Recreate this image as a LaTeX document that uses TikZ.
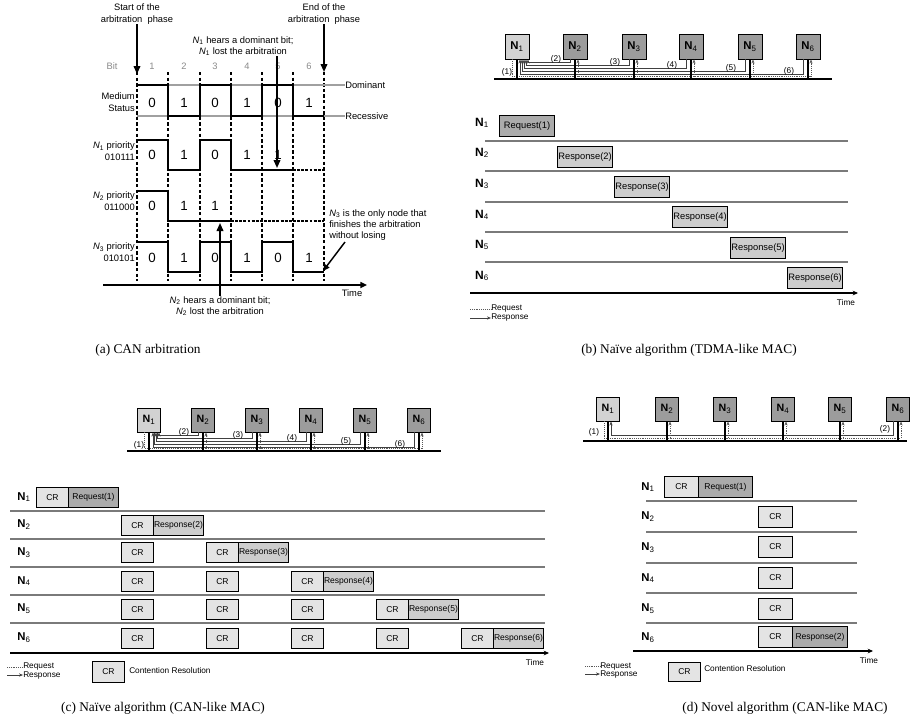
\documentclass[tikz,border=0pt]{standalone}
\usepackage{fontspec}
\setmainfont{Liberation Serif}
\setsansfont{Liberation Sans}
\usetikzlibrary{arrows.meta,calc}
\definecolor{nodeA}{HTML}{D2D2D2}
\definecolor{nodeB}{HTML}{9C9C9C}
\definecolor{reqfill}{HTML}{ABABAB}
\definecolor{resfill}{HTML}{CDCDCD}
\definecolor{crfill}{HTML}{E4E4E4}
\definecolor{sepcol}{HTML}{7A7A7A}
\definecolor{bitgray}{HTML}{8A8A8A}
\definecolor{lvlgray}{HTML}{A0A0A0}
\newcommand{\NB}[1]{\textbf{N}\textsubscript{#1}}
\newcommand{\NI}[1]{\textit{N}\textsubscript{#1}}
\begin{document}
\begin{tikzpicture}[x=0.75pt,y=-0.75pt,font=\sffamily,
  every node/.style={inner sep=0pt},
  lbl/.style={font=\sffamily\fontsize{7}{8.5}\selectfont},
  digit/.style={font=\sffamily\fontsize{10}{10}\selectfont},
  wave/.style={line width=1.5pt,line join=miter},
  wavedash/.style={line width=1.5pt,dash pattern=on 2.2pt off 0.9pt},
  bitline/.style={line width=1.1pt,dash pattern=on 2.6pt off 1.6pt},
  lvl/.style={draw=lvlgray,line width=0.8pt},
  bigarrow/.style={line width=1.2pt,-{Triangle[length=6pt,width=5pt]}},
  axisarrow/.style={line width=1.2pt,-{Triangle[length=5pt,width=4.5pt]}},
  nbox/.style={draw,line width=0.7pt,minimum width=18pt,minimum height=18.75pt,font=\sffamily\fontsize{8.5}{9}\selectfont},
  nboxs/.style={nbox,minimum width=17.25pt,minimum height=18pt,font=\sffamily\fontsize{8}{9}\selectfont},
  bus/.style={line width=1.8pt},
  vbar/.style={line width=1.6pt},
  reqline/.style={draw=black!65,line width=0.6pt,dash pattern=on 0.7pt off 0.7pt},
  reqarrow/.style={reqline,-{Stealth[length=3pt,width=2.4pt]}},
  respline/.style={draw=black!75,line width=0.6pt,-{Stealth[length=3pt,width=2.4pt]}},
  plbl/.style={font=\sffamily\fontsize{6.2}{7}\selectfont},
  rowlbl/.style={font=\sffamily\fontsize{9}{10}\selectfont},
  rowlbls/.style={font=\sffamily\fontsize{8.5}{10}\selectfont},
  rowsep/.style={draw=sepcol,line width=0.9pt},
  tline/.style={line width=0.9pt,-{Stealth[length=4pt,width=3.5pt]}},
  bbox/.style={draw,line width=0.8pt,anchor=north west,minimum width=41.25pt,minimum height=15.75pt,font=\sffamily\fontsize{7}{8}\selectfont},
  crbox/.style={draw,line width=0.7pt,fill=crfill,anchor=north west,minimum width=24pt,minimum height=15pt,font=\sffamily\fontsize{6.4}{7}\selectfont},
  resbox/.style={crbox,fill=resfill,minimum width=37.5pt},
  crboxd/.style={crbox,minimum width=25.5pt,minimum height=15.75pt},
  leg/.style={font=\sffamily\fontsize{6.2}{6.5}\selectfont},
  captxt/.style={font=\rmfamily\fontsize{10}{12}\selectfont}
]
\useasboundingbox (0,0) rectangle (913,722);

%% ================= (a) CAN arbitration =================
\foreach \x in {137,168,200,231,262,293,324} \draw[bitline] (\x,72) -- (\x,281);

\node[lbl,align=center] (startlbl) at (137,14) {Start of the\\arbitration\ \ phase};
\node[lbl,align=center] (endlbl) at (324,14) {End of the\\arbitration\ \ phase};
\coordinate (sa) at (137,74);
\coordinate (ea) at (324,72);
\draw[bigarrow] (startlbl.south) -- (sa);
\draw[bigarrow] (endlbl.south) -- (ea);

\node[lbl,text=bitgray] (bitlbl) at (112,66) {Bit};
\foreach \i/\x in {1/152,2/184,3/215,4/247,5/278,6/309} \node[lbl,text=bitgray] (bit\i) at (\x,66) {\i};

\node[lbl,anchor=west] (dom) at (345,85) {Dominant};
\node[lbl,anchor=west] (rec) at (345,116) {Recessive};
\draw[lvl] (137,85) -- (dom.west);
\draw[lvl] (137,116) -- (rec.west);

% medium status
\node[lbl,align=right,anchor=east] (medlbl) at (135,102) {Medium\\Status};
\draw[wave] (137,85) -| (168,116) -| (200,85) -| (231,116) -| (262,85) -| (293,116) -- (324,116);
\foreach \x/\d in {152/0,184/1,215/0,247/1,278/0,309/1} \node[digit] (md\x) at (\x,103) {\d};

% N1
\node[lbl,align=right,anchor=east] (n1lbl) at (135,151) {\NI{1} priority\\010111};
\draw[wave] (137,140) -| (168,170) -| (200,140) -| (231,170) -- (293,170);
\draw[wavedash] (293,170) -- (324,170);
\foreach \x/\d in {152/0,184/1,215/0,247/1,278/1} \node[digit] (na\x) at (\x,155) {\d};

% N2
\node[lbl,align=right,anchor=east] (n2lbl) at (135,201) {\NI{2} priority\\011000};
\draw[wave] (137,191) -| (168,221) -- (231,221);
\draw[wavedash] (231,221) -- (324,221);
\foreach \x/\d in {152/0,184/1,215/1} \node[digit] (nb\x) at (\x,206) {\d};

% N3
\node[lbl,align=right,anchor=east] (n3lbl) at (135,252) {\NI{3} priority\\010101};
\draw[wave] (137,242) -| (168,272) -| (200,242) -| (231,272) -| (262,242) -| (293,272) -- (324,272);
\foreach \x/\d in {152/0,184/1,215/0,247/1,278/0,309/1} \node[digit] (nc\x) at (\x,258) {\d};

% time axis
\coordinate (ta0) at (103,285);
\coordinate (ta1) at (367,285);
\draw[axisarrow] (ta0) -- (ta1);
\node[lbl] (timea) at (352,293) {Time};

% annotations
\node[lbl,align=center] (n1lost) at (243,46) {\NI{1} hears a dominant bit;\\\NI{1} lost the arbitration};
\coordinate (n1s) at (277,56);
\coordinate (n1hit) at (277,168);
\draw[bigarrow] (n1s) -- (n1hit);

\node[lbl,align=center] (n2lost) at (220,306) {\NI{2} hears a dominant bit;\\\NI{2} lost the arbitration};
\coordinate (n2hit) at (220,223);
\draw[bigarrow] (n2lost.north) -- (n2hit);

\node[lbl,align=left,anchor=north west] (n3txt) at (329,209) {\NI{3} is the only node that\\finishes the arbitration\\without losing};
\coordinate (n3s) at (345,242);
\coordinate (n3hit) at (323,271);
\draw[line width=1.1pt,-{Triangle[length=5pt,width=4.5pt]}] (n3s) -- (n3hit);

%% ================= (b) TDMA-like =================
\node[nbox,fill=nodeA] (b1) at (517,46.5) {\NB{1}};
\foreach \k/\x in {2/575,3/634,4/691,5/750,6/808} \node[nbox,fill=nodeB] (b\k) at (\x,46.5) {\NB{\k}};
\coordinate (bL) at (494,79);
\coordinate (bR) at (832,79);
\foreach \k/\lev/\dx in {2/62/11,3/65/9,4/68/7,5/71/5,6/74/3} {
  \draw[respline] ($(b\k.south)+(-5,0)$) -- ($(b\k.south)+(-5,\lev-59)$) -| ($(b1.south)+(\dx,0)$);
  \node[plbl] (bl\k) at ($(b\k.south)+(-19,\lev-62)$) {(\k)};
}
\draw[reqline] ($(b1.south)+(-5,0)$) -- ($(b1.south |- bL)+(-5,-2.5)$) -- ($(b6.south |- bL)+(3,-2.5)$);
\foreach \k in {2,...,6} \draw[reqarrow] ($(b\k.south |- bL)+(3,-2.5)$) -- ($(b\k.south)+(3,0)$);
\draw[bus] (bL) -- (bR);
\foreach \k in {1,...,6} \draw[vbar] (b\k.south) -- (b\k.south |- bL);
\node[plbl] (bl1) at (507,72) {(1)};

% timeline (b)
\foreach \k/\y in {1/123,2/153,3/184,4/215,5/245,6/276} \node[rowlbl] (bt\k) at (482,\y) {\NB{\k}};
\foreach \y in {141,171,202,232,262} \draw[rowsep] (485,\y) -- (848,\y);
\coordinate (tb0) at (470,293);
\coordinate (tb1) at (858,293);
\draw[tline] (tb0) -- (tb1);
\node[leg] (timeb) at (846,303) {Time};
\node[bbox,fill=reqfill] (breq1) at (499,115) {Request(1)};
\foreach \k/\x/\y in {2/557/146,3/614/176,4/672/206,5/730/237,6/787/267} \node[bbox,fill=resfill] (bres\k) at (\x,\y) {Response(\k)};
% legend (b)
\node[leg,anchor=west] (blreq) at (491,309) {Request};
\node[leg,anchor=west] (blres) at (491,318) {Response};
\coordinate (blr0) at (470,309);
\coordinate (bls0) at (470,318);
\draw[reqline] (blr0) -- (blreq.west);
\draw[respline] (bls0) -- (blres.west);

%% ================= (c) CAN-like naive =================
\node[nboxs,fill=nodeA] (c1) at (149,420) {\NB{1}};
\foreach \k/\x in {2/203,3/257,4/311,5/365,6/419} \node[nboxs,fill=nodeB] (c\k) at (\x,420) {\NB{\k}};
\coordinate (cL) at (127,451);
\coordinate (cR) at (441,451);
\foreach \k/\lev/\dx in {2/435/10,3/438/8.5,4/441/7,5/444/5.5,6/447/4} {
  \draw[respline] ($(c\k.south)+(-5,0)$) -- ($(c\k.south)+(-5,\lev-432)$) -| ($(c1.south)+(\dx,0)$);
  \node[plbl] (cl\k) at ($(c\k.south)+(-19,\lev-435)$) {(\k)};
}
\draw[reqline] ($(c1.south)+(-5,0)$) -- ($(c1.south |- cL)+(-5,-2.5)$) -- ($(c6.south |- cL)+(3,-2.5)$);
\foreach \k in {2,...,6} \draw[reqarrow] ($(c\k.south |- cL)+(3,-2.5)$) -- ($(c\k.south)+(3,0)$);
\draw[bus] (cL) -- (cR);
\foreach \k in {1,...,6} \draw[vbar] (c\k.south) -- (c\k.south |- cL);
\node[plbl] (cl1) at (139,445) {(1)};

% timeline (c)
\foreach \k/\y in {1/497,2/525,3/553,4/581,5/609,6/638} \node[rowlbls] (ct\k) at (24,\y) {\NB{\k}};
\foreach \y in {511,539,567,595,623} \draw[rowsep] (10,\y) -- (545,\y);
\coordinate (tc0) at (10,653);
\coordinate (tc1) at (549,653);
\draw[tline] (tc0) -- (tc1);
\node[leg] (timec) at (535,663) {Time};
\node[crbox] (ccr1) at (36,487) {CR};
\node[resbox,fill=reqfill] (creq1) at (68,487) {Request(1)};
\foreach \r/\yt in {2/515,3/542,4/571,5/599,6/628} {
  \pgfmathtruncatemacro{\lastj}{\r-2}
  \foreach \j in {0,...,\lastj} \node[crbox] (ccr\r\j) at ({121+85*\j},\yt) {CR};
  \node[resbox] (cres\r) at ({153+85*\lastj},\yt) {Response(\r)};
}
% legend (c)
\node[leg,anchor=west] (clreq) at (23,667) {Request};
\node[leg,anchor=west] (clres) at (23,675) {Response};
\coordinate (clr0) at (7,667);
\coordinate (cls0) at (7,675);
\draw[reqline] (clr0) -- (clreq.west);
\draw[respline] (cls0) -- (clres.west);
\node[crbox,minimum height=15.75pt] (clcr) at (92,661) {CR};
\node[leg,anchor=west] (clcrt) at (129,671) {Contention Resolution};

%% ================= (d) CAN-like novel =================
\node[nboxs,fill=nodeA] (d1) at (608,409) {\NB{1}};
\foreach \k/\x in {2/667,3/725,4/783,5/840,6/898} \node[nboxs,fill=nodeB] (d\k) at (\x,409) {\NB{\k}};
\coordinate (dL) at (583,441);
\coordinate (dR) at (907,441);
\draw[respline] ($(d6.south)+(-5,0)$) -- ($(d6.south)+(-5,14)$) -| ($(d1.south)+(3,0)$);
\draw[reqline] ($(d1.south)+(-4,0)$) -- ($(d1.south |- dL)+(-4,-3)$) -- ($(d6.south |- dL)+(3,-3)$);
\foreach \k in {2,...,6} \draw[reqarrow] ($(d\k.south |- dL)+(3,-3)$) -- ($(d\k.south)+(3,0)$);
\draw[bus] (dL) -- (dR);
\foreach \k in {1,...,6} \draw[vbar] (d\k.south) -- (d\k.south |- dL);
\node[plbl] (dl1) at (594,432) {(1)};
\node[plbl] (dl2) at (885,429) {(2)};

% timeline (d)
\foreach \k/\y in {1/487,2/517,3/548,4/578,5/609,6/638} \node[rowlbls] (dt\k) at (648,\y) {\NB{\k}};
\foreach \y in {501,532,563,593,623} \draw[rowsep] (646,\y) -- (857,\y);
\coordinate (td0) at (633,651);
\coordinate (td1) at (873,651);
\draw[tline] (td0) -- (td1);
\node[leg] (timed) at (869,661) {Time};
\node[crboxd] (dcr1) at (664,476) {CR};
\node[crboxd,fill=reqfill,minimum width=40.5pt] (dreq1) at (698,476) {Request(1)};
\foreach \k/\yt in {2/506,3/536,4/567,5/598,6/626} \node[crboxd] (dcr\k) at (758,\yt) {CR};
\node[crboxd,fill=reqfill,minimum width=41.25pt] (dres6) at (792,626) {Response(2)};
% legend (d)
\node[leg,anchor=west] (dlreq) at (600,666) {Request};
\node[leg,anchor=west] (dlres) at (600,674) {Response};
\coordinate (dlr0) at (585,666);
\coordinate (dls0) at (585,674);
\draw[reqline] (dlr0) -- (dlreq.west);
\draw[respline] (dls0) -- (dlres.west);
\node[crbox,minimum height=14.25pt] (dlcr) at (668,662) {CR};
\node[leg,anchor=west] (dlcrt) at (704,669) {Contention Resolution};

%% ================= captions =================
\node[captxt] (capa) at (148,350) {(a) CAN arbitration};
\node[captxt] (capb) at (689,350) {(b) Na\"ive algorithm (TDMA-like MAC)};
\node[captxt] (capc) at (163,708) {(c) Na\"ive algorithm (CAN-like MAC)};
\node[captxt] (capd) at (785,708) {(d) Novel algorithm (CAN-like MAC)};
\end{tikzpicture}
\end{document}
